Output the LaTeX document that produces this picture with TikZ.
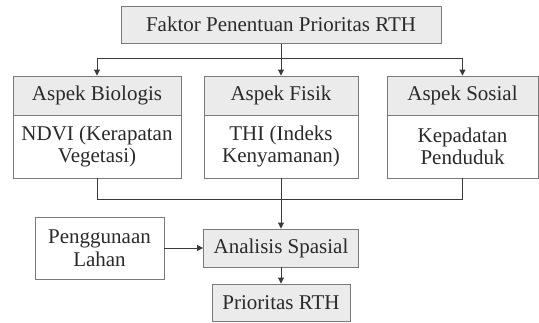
\documentclass[tikz,border=0pt]{standalone}
\usepackage{fontspec}
\setmainfont{Liberation Serif}
\newfontfamily\diagfont{Liberation Serif}
\usetikzlibrary{arrows.meta}
\definecolor{bordc}{HTML}{7A7A7A}
\definecolor{hdfill}{HTML}{EBEBEB}
\definecolor{txtc}{HTML}{2A2A2A}
\definecolor{linec}{HTML}{3A3A3A}
\begin{document}
\begin{tikzpicture}[x=1pt,y=-1pt,
  box/.style={draw=bordc, line width=0.9pt, rectangle, inner sep=0pt, align=center, text=txtc, font=\diagfont\fontsize{21}{22.5}\selectfont},
  hd/.style={box, fill=hdfill},
  plain/.style={box, fill=white},
  conn/.style={draw=linec, line width=0.9pt},
  arr/.style={conn, -{Triangle[width=6pt,length=6pt]}}]
\useasboundingbox[fill=white] (0,0) rectangle (539,322);
% top
\node[hd, minimum width=320pt, minimum height=37pt] (top) at (281,24.7) {Faktor Penentuan Prioritas RTH};
% aspect columns
\node[plain, minimum width=168pt, minimum height=63pt] (bb) at (97,146.5) {NDVI (Kerapatan\\Vegetasi)};
\node[hd, minimum width=168pt, minimum height=39pt] (hb) at (97,95.5) {Aspek Biologis};
\node[plain, minimum width=154pt, minimum height=63pt] (bf) at (281,146.5) {THI (Indeks\\Kenyamanan)};
\node[hd, minimum width=154pt, minimum height=39pt] (hf) at (281,95.5) {Aspek Fisik};
\node[plain, minimum width=151pt, minimum height=63pt] (bs) at (462.5,146.5) {Kepadatan\\Penduduk};
\node[hd, minimum width=151pt, minimum height=39pt] (hs) at (462.5,95.5) {Aspek Sosial};
% lower
\node[hd, minimum width=155pt, minimum height=38pt] (an) at (281,248) {Analisis Spasial};
\node[plain, minimum width=129pt, minimum height=62pt] (pg) at (99.5,248) {Penggunaan\\Lahan};
\node[hd, minimum width=138pt, minimum height=37pt] (pr) at (281,302.5) {Prioritas RTH};
% buses
\coordinate (bus1) at (0,58.7);
\coordinate (bus2) at (0,199.3);
\draw[conn] (top.south) -- (top.south |- bus1);
\draw[conn] (hb.north |- bus1) -- (hs.north |- bus1);
\draw[arr] (hb.north |- bus1) -- (hb.north);
\draw[arr] (hf.north |- bus1) -- (hf.north);
\draw[arr] (hs.north |- bus1) -- (hs.north);
\draw[conn] (bb.south) -- (bb.south |- bus2) -- (bs.south |- bus2) -- (bs.south);
\draw[arr] (bf.south) -- (an.north);
\draw[arr] (pg.east) -- (an.west);
\draw[arr] (an.south) -- (pr.north);
\end{tikzpicture}
\end{document}
